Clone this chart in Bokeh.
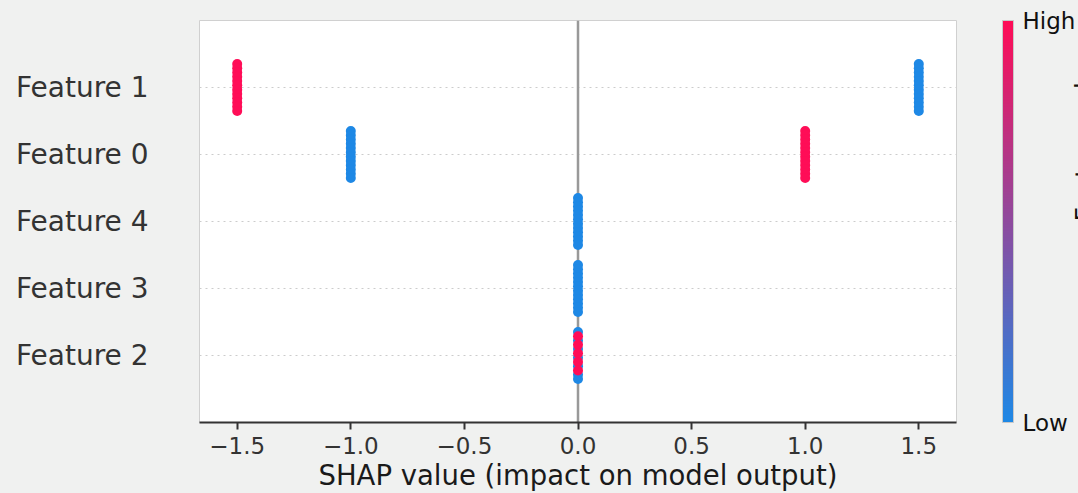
import numpy as np
from bokeh.plotting import figure
from bokeh.models import (Range1d, FixedTicker, LinearColorMapper, ColorBar,
                          LinearAxis, Span, ColumnDataSource)
from bokeh.transform import linear_cmap
from bokeh.embed import file_html
from bokeh.resources import INLINE

# ---------------- data ----------------
features = ["Feature 2", "Feature 3", "Feature 4", "Feature 0", "Feature 1"]  # bottom -> top
cluster_feature = ["Feature 1", "Feature 1", "Feature 0", "Feature 0",
                   "Feature 4", "Feature 3", "Feature 2"]
cluster_shap = [-1.5, 1.5, 1.0, -1.0, 0.0, 0.0, 0.0]
# per-sample feature values (1 = high, 0 = low), listed top -> bottom in the swarm
cluster_values = [
    [1, 1, 1, 1, 1, 1, 1, 1, 1, 1, 1, 1],
    [0, 0, 0, 0, 0, 0, 0, 0, 0, 0, 0, 0],
    [1, 1, 1, 1, 1, 1, 1, 1, 1, 1, 1, 1],
    [0, 0, 0, 0, 0, 0, 0, 0, 0, 0, 0, 0],
    [0, 0, 0, 0, 0, 0, 0, 0, 0, 0, 0, 0],
    [0, 0, 0, 0, 0, 0, 0, 0, 0, 0, 0, 0],
    [0, 1, 0, 1, 0, 1, 0, 1, 0, 1, 0, 0],
]
x_ticks = [-1.5, -1.0, -0.5, 0.0, 0.5, 1.0, 1.5]
x_tick_labels = ["\u22121.5", "\u22121.0", "\u22120.5", "0.0", "0.5", "1.0", "1.5"]
colorbar_labels = ["Low", "High"]
colorbar_title = "Feature value"

BLUE = (30, 136, 229)
RED = (255, 13, 87)
palette = []
for t in np.linspace(0, 1, 256):
    c = [int(round(BLUE[i] + (RED[i] - BLUE[i]) * t)) for i in range(3)]
    palette.append("#%02x%02x%02x" % tuple(c))

# beeswarm layout (vertical spread within each row)
xs, ys, vs = [], [], []
for feat, sv, vals in zip(cluster_feature, cluster_shap, cluster_values):
    row = features.index(feat)
    offs = np.linspace(0.35, -0.35, len(vals))
    for o, v in zip(offs, vals):
        xs.append(sv)
        ys.append(row + o)
        vs.append(v)
order = np.argsort(vs, kind="stable")
src = ColumnDataSource(dict(x=[xs[i] for i in order], y=[ys[i] for i in order],
                            v=[vs[i] for i in order]))

FONT = "DejaVu Sans"
BG = "#f0f1f0"

p = figure(frame_width=757, frame_height=402, output_backend="svg",
           toolbar_location=None,
           x_range=Range1d(-1.666, 1.666), y_range=Range1d(-1, len(features)),
           min_border_left=199, min_border_right=122, min_border_top=20,
           min_border_bottom=71)
p.background_fill_color = "white"
p.border_fill_color = BG
p.outline_line_color = "#d0d0d0"
p.outline_line_width = 1

p.xgrid.grid_line_color = None
p.ygrid.grid_line_color = "#cccccc"
p.ygrid.grid_line_dash = "2 4"
p.ygrid.grid_line_width = 1

zero = Span(location=0, dimension="height", line_color="#999999", line_width=2.5,
            level="underlay")
p.add_layout(zero)

p.scatter("x", "y", source=src, size=10,
          fill_color=linear_cmap("v", palette, 0, 1), line_color=None)

# x axis
xa = p.xaxis[0]
xa.ticker = FixedTicker(ticks=x_ticks)
xa.major_label_overrides = {t: l for t, l in zip(x_ticks, x_tick_labels)}
xa.minor_tick_line_color = None
xa.axis_line_color = "#333333"
xa.axis_line_width = 2
xa.major_tick_line_color = "#333333"
xa.major_tick_line_width = 2
xa.major_tick_in = 0
xa.major_tick_out = 7
xa.major_label_standoff = 7
xa.major_label_text_font = FONT
xa.major_label_text_font_size = "23px"
xa.major_label_text_color = "#333333"
xa.axis_label = "SHAP value (impact on model output)"
xa.axis_label_text_font = FONT
xa.axis_label_text_font_size = "27.5px"
xa.axis_label_text_font_style = "normal"
xa.axis_label_text_color = "#1a1a1a"
xa.axis_label_standoff = 2

# y axis
ya = p.yaxis[0]
ya.ticker = FixedTicker(ticks=list(range(len(features))))
ya.major_label_overrides = {i: f for i, f in enumerate(features)}
ya.axis_line_color = None
ya.major_tick_line_color = None
ya.minor_tick_line_color = None
ya.major_tick_out = 0
ya.major_tick_in = 0
ya.major_label_standoff = 51
ya.major_label_text_font = FONT
ya.major_label_text_font_size = "28px"
ya.major_label_text_color = "#333333"

# colour bar
mapper = LinearColorMapper(palette=palette, low=0, high=1)
cb = ColorBar(color_mapper=mapper, ticker=FixedTicker(ticks=[0, 1]),
              major_label_overrides={0: colorbar_labels[0], 1: colorbar_labels[1]},
              width=11, height=402, location=(46, 0), margin=0, padding=0,
              major_tick_line_color=None, major_tick_out=0, major_tick_in=0,
              minor_tick_line_color=None,
              bar_line_color="#c8c8c8", bar_line_width=1,
              label_standoff=9,
              major_label_text_font=FONT, major_label_text_font_size="23px",
              major_label_text_color="#111111",
              background_fill_color=None, border_line_color=None)
p.add_layout(cb, "right")

# colour-bar title as the label of an empty right-hand axis (cut by the window edge)
ra = LinearAxis(ticker=FixedTicker(ticks=[]), axis_line_color=None,
                major_tick_line_color=None, minor_tick_line_color=None,
                major_tick_out=0, major_tick_in=0, minor_tick_out=0,
                major_label_standoff=0,
                axis_label=colorbar_title, axis_label_standoff=6,
                axis_label_text_font=FONT, axis_label_text_font_size="25px",
                axis_label_text_font_style="normal",
                axis_label_text_align="center", axis_label_text_baseline="top",
                axis_label_text_color="#111111")
try:
    ra.axis_label_orientation = np.pi / 2
except Exception:
    pass
p.add_layout(ra, "right")

html = file_html(p, INLINE)
html = html.replace("</head>",
                    "<style>html, body {background-color: %s; overflow: hidden;}</style></head>" % BG, 1)
open("out.html", "w").write(html)
